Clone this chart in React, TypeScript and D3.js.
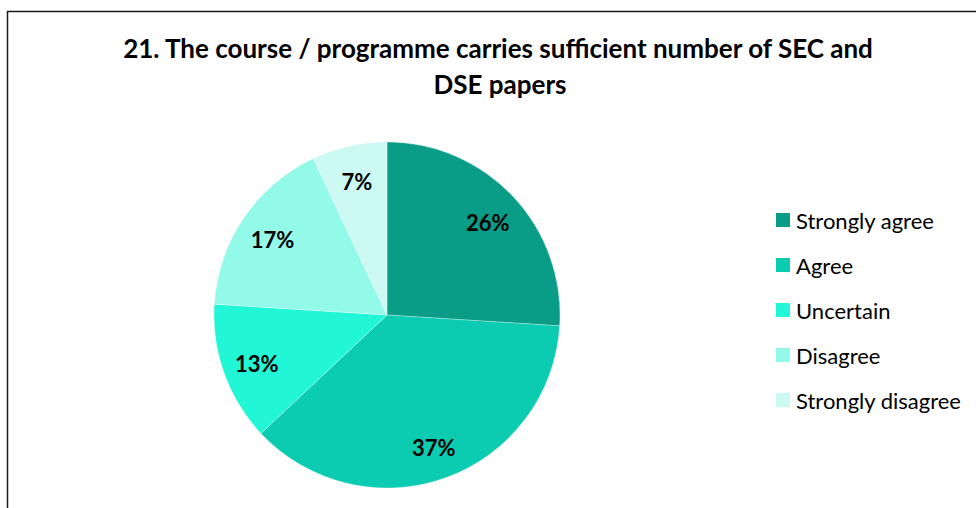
import React from "react";
import * as d3 from "d3";

const categories = ["Strongly agree", "Agree", "Uncertain", "Disagree", "Strongly disagree"];
const values = [26, 37, 13, 17, 7];
const labels = ["26%", "37%", "13%", "17%", "7%"];
const colors = ["#099C87", "#0BCBB0", "#21F6D7", "#93F9E9", "#CCFAF3"];
const titleLines = ["21. The course / programme carries sufficient number of SEC and", "DSE papers"];

const W = 976;
const H = 508;
const FONT = "Lato, 'Liberation Sans', sans-serif";

export default function App() {
  const cx = 387;
  const cy = 315;
  const r = 173;
  const pie = d3.pie<number>().sort(null).value((d) => d)(values);
  const arc = d3.arc<d3.PieArcDatum<number>>().innerRadius(0).outerRadius(r);
  const labelArc = d3.arc<d3.PieArcDatum<number>>().innerRadius(r * 0.8).outerRadius(r * 0.8);
  const legendY = d3.scalePoint<string>().domain(categories).range([220, 400]);

  return (
    <svg
      width={W}
      height={H}
      style={{ position: "absolute", left: 0, top: 0, background: "#fff" }}
      fontFamily={FONT}
    >
      <rect x={0} y={0} width={W} height={H} fill="#fff" />
      <rect x={7.5} y={11.5} width={W + 20} height={H + 20} fill="none" stroke="#1a1a1a" strokeWidth={1.5} />
      <g fontWeight={700} fontSize={26} textAnchor="middle" fill="#000">
        <text x={498} y={58}>{titleLines[0]}</text>
        <text x={500} y={94}>{titleLines[1]}</text>
      </g>
      <g transform={`translate(${cx},${cy})`}>
        {pie.map((p, i) => (
          <path key={i} d={arc(p) || ""} fill={colors[i]} stroke="#fff" strokeWidth={0.3} />
        ))}
        {pie.map((p, i) => {
          const [x, y] = labelArc.centroid(p);
          return (
            <text
              key={"l" + i}
              x={x}
              y={y + 2}
              textAnchor="middle"
              dominantBaseline="central"
              fontWeight={700}
              fontSize={22}
              fill="#000"
            >
              {labels[i]}
            </text>
          );
        })}
      </g>
      <g>
        {categories.map((c, i) => (
          <g key={c} transform={`translate(776,${legendY(c)})`}>
            <rect x={0} y={-7} width={14} height={14} fill={colors[i]} />
            <text x={20} y={0} dominantBaseline="central" fontSize={22} fill="#000">
              {c}
            </text>
          </g>
        ))}
      </g>
    </svg>
  );
}
